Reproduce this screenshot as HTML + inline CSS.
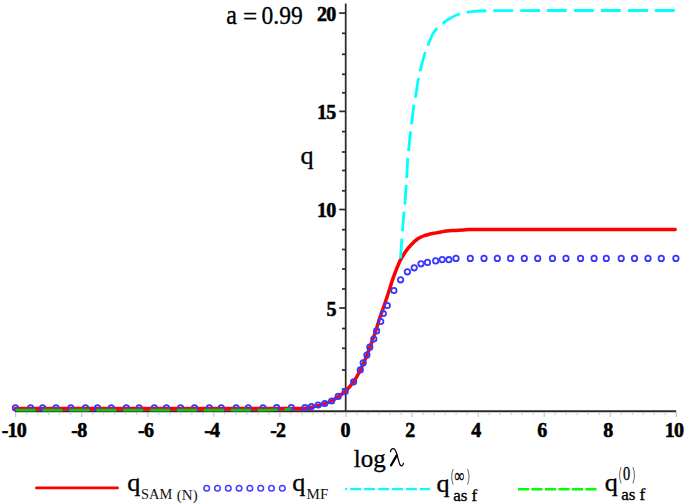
<!DOCTYPE html>
<html><head><meta charset="utf-8"><title>q vs log lambda</title>
<style>
html,body{margin:0;padding:0;background:#fff;width:685px;height:504px;overflow:hidden;font-family:"Liberation Serif",serif;}
svg{display:block;}
</style></head><body>
<svg width="685" height="504" viewBox="0 0 685 504">
<g stroke="#2a2a2a" fill="none">
<line x1="345.70" y1="3.5" x2="345.70" y2="412.10" stroke-width="1.75"/>
<line x1="14.8" y1="411.30" x2="676.2" y2="411.30" stroke-width="2"/>
<line x1="339.2" y1="13.10" x2="345.50" y2="13.10" stroke-width="1.7"/>
<line x1="342" y1="33.30" x2="345.50" y2="33.30" stroke-width="1.7"/>
<line x1="342" y1="54.30" x2="345.50" y2="54.30" stroke-width="1.7"/>
<line x1="342" y1="74.30" x2="345.50" y2="74.30" stroke-width="1.7"/>
<line x1="342" y1="92.80" x2="345.50" y2="92.80" stroke-width="1.7"/>
<line x1="339.2" y1="111.40" x2="345.50" y2="111.40" stroke-width="1.7"/>
<line x1="342" y1="131.60" x2="345.50" y2="131.60" stroke-width="1.7"/>
<line x1="342" y1="152.00" x2="345.50" y2="152.00" stroke-width="1.7"/>
<line x1="342" y1="170.50" x2="345.50" y2="170.50" stroke-width="1.7"/>
<line x1="342" y1="190.80" x2="345.50" y2="190.80" stroke-width="1.7"/>
<line x1="339.2" y1="209.50" x2="345.50" y2="209.50" stroke-width="1.7"/>
<line x1="342" y1="229.70" x2="345.50" y2="229.70" stroke-width="1.7"/>
<line x1="342" y1="249.50" x2="345.50" y2="249.50" stroke-width="1.7"/>
<line x1="342" y1="269.00" x2="345.50" y2="269.00" stroke-width="1.7"/>
<line x1="342" y1="289.00" x2="345.50" y2="289.00" stroke-width="1.7"/>
<line x1="339.2" y1="308.00" x2="345.50" y2="308.00" stroke-width="1.7"/>
<line x1="342" y1="328.50" x2="345.50" y2="328.50" stroke-width="1.7"/>
<line x1="342" y1="348.30" x2="345.50" y2="348.30" stroke-width="1.7"/>
<line x1="342" y1="370.10" x2="345.50" y2="370.10" stroke-width="1.7"/>
<line x1="342" y1="389.00" x2="345.50" y2="389.00" stroke-width="1.7"/>
</g>
<g stroke="#c8c8c8" stroke-width="1" fill="none">
<line x1="15.70" y1="412.30" x2="15.70" y2="417" stroke="#b8b8b8"/>
<line x1="26.71" y1="412.30" x2="26.71" y2="415"/>
<line x1="37.72" y1="412.30" x2="37.72" y2="415"/>
<line x1="48.73" y1="412.30" x2="48.73" y2="415"/>
<line x1="59.74" y1="412.30" x2="59.74" y2="415"/>
<line x1="70.75" y1="412.30" x2="70.75" y2="415"/>
<line x1="81.76" y1="412.30" x2="81.76" y2="417" stroke="#b8b8b8"/>
<line x1="92.77" y1="412.30" x2="92.77" y2="415"/>
<line x1="103.78" y1="412.30" x2="103.78" y2="415"/>
<line x1="114.79" y1="412.30" x2="114.79" y2="415"/>
<line x1="125.80" y1="412.30" x2="125.80" y2="415"/>
<line x1="136.81" y1="412.30" x2="136.81" y2="415"/>
<line x1="147.82" y1="412.30" x2="147.82" y2="417" stroke="#b8b8b8"/>
<line x1="158.83" y1="412.30" x2="158.83" y2="415"/>
<line x1="169.84" y1="412.30" x2="169.84" y2="415"/>
<line x1="180.85" y1="412.30" x2="180.85" y2="415"/>
<line x1="191.86" y1="412.30" x2="191.86" y2="415"/>
<line x1="202.87" y1="412.30" x2="202.87" y2="415"/>
<line x1="213.88" y1="412.30" x2="213.88" y2="417" stroke="#b8b8b8"/>
<line x1="224.89" y1="412.30" x2="224.89" y2="415"/>
<line x1="235.90" y1="412.30" x2="235.90" y2="415"/>
<line x1="246.91" y1="412.30" x2="246.91" y2="415"/>
<line x1="257.92" y1="412.30" x2="257.92" y2="415"/>
<line x1="268.93" y1="412.30" x2="268.93" y2="415"/>
<line x1="279.94" y1="412.30" x2="279.94" y2="417" stroke="#b8b8b8"/>
<line x1="290.95" y1="412.30" x2="290.95" y2="415"/>
<line x1="301.96" y1="412.30" x2="301.96" y2="415"/>
<line x1="312.97" y1="412.30" x2="312.97" y2="415"/>
<line x1="323.98" y1="412.30" x2="323.98" y2="415"/>
<line x1="334.99" y1="412.30" x2="334.99" y2="415"/>
<line x1="346.00" y1="412.30" x2="346.00" y2="417" stroke="#b8b8b8"/>
<line x1="357.01" y1="412.30" x2="357.01" y2="415"/>
<line x1="368.02" y1="412.30" x2="368.02" y2="415"/>
<line x1="379.03" y1="412.30" x2="379.03" y2="415"/>
<line x1="390.04" y1="412.30" x2="390.04" y2="415"/>
<line x1="401.05" y1="412.30" x2="401.05" y2="415"/>
<line x1="412.06" y1="412.30" x2="412.06" y2="417" stroke="#b8b8b8"/>
<line x1="423.07" y1="412.30" x2="423.07" y2="415"/>
<line x1="434.08" y1="412.30" x2="434.08" y2="415"/>
<line x1="445.09" y1="412.30" x2="445.09" y2="415"/>
<line x1="456.10" y1="412.30" x2="456.10" y2="415"/>
<line x1="467.11" y1="412.30" x2="467.11" y2="415"/>
<line x1="478.12" y1="412.30" x2="478.12" y2="417" stroke="#b8b8b8"/>
<line x1="489.13" y1="412.30" x2="489.13" y2="415"/>
<line x1="500.14" y1="412.30" x2="500.14" y2="415"/>
<line x1="511.15" y1="412.30" x2="511.15" y2="415"/>
<line x1="522.16" y1="412.30" x2="522.16" y2="415"/>
<line x1="533.17" y1="412.30" x2="533.17" y2="415"/>
<line x1="544.18" y1="412.30" x2="544.18" y2="417" stroke="#b8b8b8"/>
<line x1="555.19" y1="412.30" x2="555.19" y2="415"/>
<line x1="566.20" y1="412.30" x2="566.20" y2="415"/>
<line x1="577.21" y1="412.30" x2="577.21" y2="415"/>
<line x1="588.22" y1="412.30" x2="588.22" y2="415"/>
<line x1="599.23" y1="412.30" x2="599.23" y2="415"/>
<line x1="610.24" y1="412.30" x2="610.24" y2="417" stroke="#b8b8b8"/>
<line x1="621.25" y1="412.30" x2="621.25" y2="415"/>
<line x1="632.26" y1="412.30" x2="632.26" y2="415"/>
<line x1="643.27" y1="412.30" x2="643.27" y2="415"/>
<line x1="654.28" y1="412.30" x2="654.28" y2="415"/>
<line x1="665.29" y1="412.30" x2="665.29" y2="415"/>
<line x1="676.30" y1="412.30" x2="676.30" y2="417" stroke="#b8b8b8"/>
</g>
<g font-family="Liberation Serif, serif" font-weight="bold" font-size="20" fill="#000" stroke="#000" stroke-width="0.55">
<text x="13.80" y="437.0" text-anchor="middle" letter-spacing="-0.8">-10</text>
<text x="78.86" y="437.0" text-anchor="middle" letter-spacing="-0.8">-8</text>
<text x="145.62" y="437.0" text-anchor="middle" letter-spacing="-0.8">-6</text>
<text x="211.68" y="437.0" text-anchor="middle" letter-spacing="-0.8">-4</text>
<text x="277.74" y="437.0" text-anchor="middle" letter-spacing="-0.8">-2</text>
<text x="345.50" y="437.0" text-anchor="middle">0</text>
<text x="410.16" y="437.0" text-anchor="middle">2</text>
<text x="476.22" y="437.0" text-anchor="middle">4</text>
<text x="542.28" y="437.0" text-anchor="middle">6</text>
<text x="608.34" y="437.0" text-anchor="middle">8</text>
<text x="674.00" y="437.0" text-anchor="middle" letter-spacing="-0.8">10</text>
<text x="336.40" y="315.80" text-anchor="end">5</text>
<text x="335.40" y="217.30" text-anchor="end" letter-spacing="-0.8">10</text>
<text x="335.40" y="119.20" text-anchor="end" letter-spacing="-0.8">15</text>
<text x="335.40" y="20.90" text-anchor="end" letter-spacing="-0.8">20</text>
</g>
<path d="M15.20,408.60 C37.67,408.60 102.87,408.60 150.00,408.60 C197.13,408.60 272.17,408.67 298.00,408.60 C323.83,408.53 302.75,408.45 305.00,408.20 C307.25,407.95 309.33,407.53 311.50,407.10 C313.67,406.67 315.78,406.18 318.00,405.60 C320.22,405.02 322.52,404.37 324.80,403.60 C327.08,402.83 329.47,402.15 331.70,401.00 C333.93,399.85 335.95,398.30 338.20,396.70 C340.45,395.10 342.63,393.88 345.20,391.40 C347.77,388.92 351.08,385.37 353.60,381.80 C356.12,378.23 358.08,374.42 360.30,370.00 C362.52,365.58 364.82,360.40 366.90,355.30 C368.98,350.20 371.55,342.83 372.80,339.40 C374.05,335.97 373.68,336.82 374.40,334.70 C375.12,332.58 376.25,329.35 377.10,326.70 C377.95,324.05 378.63,321.43 379.50,318.80 C380.37,316.17 381.37,313.55 382.30,310.90 C383.23,308.25 384.12,305.80 385.10,302.90 C386.08,300.00 386.87,297.62 388.20,293.50 C389.53,289.38 391.40,283.03 393.10,278.20 C394.80,273.37 397.20,267.47 398.40,264.50 C399.60,261.53 399.07,262.62 400.30,260.40 C401.53,258.18 403.90,253.90 405.80,251.20 C407.70,248.50 409.75,246.23 411.70,244.20 C413.65,242.17 415.55,240.37 417.50,239.00 C419.45,237.63 421.45,236.78 423.40,236.00 C425.35,235.22 427.27,234.78 429.20,234.30 C431.13,233.82 433.05,233.48 435.00,233.10 C436.95,232.72 438.95,232.33 440.90,232.00 C442.85,231.67 444.77,231.33 446.70,231.10 C448.63,230.87 450.55,230.73 452.50,230.60 C454.45,230.47 456.45,230.42 458.40,230.30 C460.35,230.18 462.27,230.02 464.20,229.90 C466.13,229.78 464.03,229.67 470.00,229.60 C475.97,229.53 485.00,229.50 500.00,229.50 C515.00,229.50 530.80,229.58 560.00,229.60 C589.20,229.62 656.00,229.60 675.20,229.60" fill="none" stroke="#ff0000" stroke-width="3.5" stroke-linecap="round" stroke-linejoin="round"/>
<g fill="none" stroke="#3838ff" stroke-width="1.8">
<circle cx="15.40" cy="407.90" r="2.7"/>
<circle cx="30.60" cy="407.90" r="2.7"/>
<circle cx="42.60" cy="407.90" r="2.7"/>
<circle cx="56.00" cy="407.90" r="2.7"/>
<circle cx="70.90" cy="407.90" r="2.7"/>
<circle cx="85.50" cy="407.90" r="2.7"/>
<circle cx="97.50" cy="407.90" r="2.7"/>
<circle cx="111.30" cy="407.90" r="2.7"/>
<circle cx="126.30" cy="407.90" r="2.7"/>
<circle cx="139.10" cy="407.90" r="2.7"/>
<circle cx="154.30" cy="407.90" r="2.7"/>
<circle cx="166.40" cy="407.90" r="2.7"/>
<circle cx="180.60" cy="407.90" r="2.7"/>
<circle cx="194.50" cy="407.90" r="2.7"/>
<circle cx="209.30" cy="407.90" r="2.7"/>
<circle cx="221.30" cy="407.90" r="2.7"/>
<circle cx="236.20" cy="407.90" r="2.7"/>
<circle cx="248.30" cy="407.90" r="2.7"/>
<circle cx="263.00" cy="407.90" r="2.7"/>
<circle cx="276.70" cy="407.50" r="2.7"/>
<circle cx="291.30" cy="407.50" r="2.7"/>
<circle cx="305.00" cy="407.60" r="2.7"/>
<circle cx="311.50" cy="406.50" r="2.7"/>
<circle cx="318.10" cy="405.00" r="2.7"/>
<circle cx="324.80" cy="403.50" r="2.7"/>
<circle cx="331.70" cy="401.00" r="2.7"/>
<circle cx="338.20" cy="396.40" r="2.7"/>
<circle cx="345.20" cy="391.40" r="2.7"/>
<circle cx="353.60" cy="381.80" r="2.7"/>
<circle cx="360.30" cy="369.90" r="2.7"/>
<circle cx="363.20" cy="362.80" r="2.7"/>
<circle cx="366.90" cy="355.10" r="2.7"/>
<circle cx="369.80" cy="347.20" r="2.7"/>
<circle cx="373.80" cy="339.00" r="2.7"/>
<circle cx="376.60" cy="330.90" r="2.7"/>
<circle cx="380.70" cy="321.50" r="2.7"/>
<circle cx="383.30" cy="313.50" r="2.7"/>
<circle cx="387.30" cy="305.50" r="2.7"/>
<circle cx="393.90" cy="290.50" r="2.7"/>
<circle cx="400.60" cy="279.80" r="2.7"/>
<circle cx="407.40" cy="271.80" r="2.7"/>
<circle cx="414.20" cy="267.80" r="2.7"/>
<circle cx="421.00" cy="263.80" r="2.7"/>
<circle cx="427.50" cy="262.40" r="2.7"/>
<circle cx="435.70" cy="260.90" r="2.7"/>
<circle cx="442.20" cy="259.60" r="2.7"/>
<circle cx="448.90" cy="259.70" r="2.7"/>
<circle cx="456.00" cy="258.40" r="2.7"/>
<circle cx="470.30" cy="258.40" r="2.7"/>
<circle cx="484.00" cy="258.40" r="2.7"/>
<circle cx="497.30" cy="258.40" r="2.7"/>
<circle cx="510.60" cy="258.40" r="2.7"/>
<circle cx="524.30" cy="258.40" r="2.7"/>
<circle cx="537.70" cy="258.40" r="2.7"/>
<circle cx="552.50" cy="258.40" r="2.7"/>
<circle cx="566.00" cy="258.40" r="2.7"/>
<circle cx="580.60" cy="258.40" r="2.7"/>
<circle cx="594.10" cy="258.40" r="2.7"/>
<circle cx="606.30" cy="258.40" r="2.7"/>
<circle cx="621.20" cy="258.40" r="2.7"/>
<circle cx="634.50" cy="258.40" r="2.7"/>
<circle cx="648.00" cy="258.40" r="2.7"/>
<circle cx="661.30" cy="258.40" r="2.7"/>
<circle cx="675.90" cy="258.40" r="2.7"/>
</g>
<path d="M400.50,258.30 C400.65,256.08 401.08,249.55 401.40,245.00 C401.72,240.45 402.03,235.67 402.40,231.00 C402.77,226.33 403.18,221.50 403.60,217.00 C404.02,212.50 404.53,208.50 404.90,204.00 C405.27,199.50 405.50,194.50 405.80,190.00 C406.10,185.50 406.37,182.33 406.70,177.00 C407.03,171.67 407.48,162.42 407.80,158.00 C408.12,153.58 408.15,154.90 408.60,150.50 C409.05,146.10 410.00,136.00 410.50,131.60 C411.00,127.20 411.03,128.57 411.60,124.10 C412.17,119.63 413.27,109.27 413.90,104.80 C414.53,100.33 414.62,101.80 415.40,97.30 C416.18,92.80 417.77,82.38 418.60,77.80 C419.43,73.22 419.30,74.03 420.40,69.80 C421.50,65.57 423.88,56.63 425.20,52.40 C426.52,48.17 426.98,47.58 428.30,44.40 C429.62,41.22 431.63,35.98 433.10,33.30 C434.57,30.62 435.38,30.02 437.10,28.30 C438.82,26.58 441.42,24.55 443.40,23.00 C445.38,21.45 446.48,20.45 449.00,19.00 C451.52,17.55 455.60,15.40 458.50,14.30 C461.40,13.20 463.75,12.90 466.40,12.40 C469.05,11.90 470.47,11.58 474.40,11.30 C478.33,11.02 475.73,10.83 490.00,10.70 C504.27,10.57 529.00,10.53 560.00,10.50 C591.00,10.47 656.67,10.50 676.00,10.50" fill="none" stroke="#00ffff" stroke-width="2.8" stroke-dasharray="19.8 7.1" stroke-dashoffset="0"/>
<path d="M15.6,410.1 L262,410.1 C272,410.1 280,409.9 291.4,408.9" fill="none" stroke="#12c012" stroke-width="2.6" stroke-dasharray="20 6.9"/>
<g font-family="Liberation Serif, serif" fill="#000" stroke="#000" stroke-width="0.3">
<text transform="translate(226.20,23.60) scale(1.000,1.150)" font-size="24">a</text>
<text transform="translate(243.00,23.60) scale(1.050,1.000)" font-size="24">=</text>
<text transform="translate(261.60,23.50) scale(0.980,1.070)" font-size="24">0.99</text>
<text transform="translate(300.40,163.60) scale(1.050,1.020)" font-size="25">q</text>
<text transform="translate(353.80,467.20) scale(1.000,1.000)" font-size="25">log</text>
</g>
<path d="M390.5,452.2 C390.4,450.2 391.8,448.6 393.4,448.7 C395.3,448.9 396.3,452 397.1,455.2 L399.2,462.6 C399.9,465.2 400.9,466.1 401.9,465.8 C402.9,465.5 403.4,464.2 403.5,462.8" fill="none" stroke="#000" stroke-width="1.25"/>
<path d="M396.7,455.4 L391.1,465.3" fill="none" stroke="#000" stroke-width="2.3" stroke-linecap="round"/>
<line x1="36.4" y1="487.9" x2="117.6" y2="487.9" stroke="#ff0000" stroke-width="2.7" stroke-linecap="round"/>
<g fill="none" stroke="#4040ff" stroke-width="1.5">
<circle cx="206.70" cy="488.2" r="2.8"/>
<circle cx="217.50" cy="488.2" r="2.8"/>
<circle cx="228.30" cy="488.2" r="2.8"/>
<circle cx="239.10" cy="488.2" r="2.8"/>
<circle cx="249.90" cy="488.2" r="2.8"/>
<circle cx="260.70" cy="488.2" r="2.8"/>
<circle cx="271.50" cy="488.2" r="2.8"/>
<circle cx="282.30" cy="488.2" r="2.8"/>
</g>
<circle cx="346" cy="489" r="1.2" fill="#00ffff"/>
<line x1="350.2" y1="489.1" x2="430" y2="489.1" stroke="#00ffff" stroke-width="2.2" stroke-dasharray="10.9 3.05"/>
<line x1="518" y1="489.2" x2="598" y2="489.2" stroke="#00ff00" stroke-width="2.6" stroke-dasharray="11 2.5"/>
<g font-family="Liberation Serif, serif" fill="#000" stroke="#000" stroke-width="0.3">
<text transform="translate(127.30,491.40) scale(1.050,0.970)" font-size="25">q</text>
<text transform="translate(292.30,491.00) scale(1.050,0.980)" font-size="25">q</text>
<text transform="translate(436.40,491.60) scale(1.050,0.970)" font-size="25">q</text>
<text transform="translate(604.70,491.20) scale(1.050,0.970)" font-size="25">q</text>
<text transform="translate(623.00,480.00) scale(0.800,1.000)" font-size="18">0</text>
<text transform="translate(454.80,481.60) scale(0.880,1.250)" font-size="15" font-weight="bold">&#8734;</text>
</g>
<g font-family="Liberation Serif, serif" fill="#111">
<text transform="translate(141.00,498.90) scale(1.030,1.000)" font-size="14">SAM</text>
<text transform="translate(176.80,499.60) scale(1.000,1.000)" font-size="15">(N)</text>
<text transform="translate(306.60,499.30) scale(1.000,1.000)" font-size="15">MF</text>
</g>
<g fill="none" stroke="#666" stroke-width="1.0">
<path d="M453.20,469.00 Q450.10,476.80 453.20,484.60"/>
<path d="M467.50,469.00 Q470.60,476.80 467.50,484.60"/>
<path d="M621.10,467.20 Q618.00,475.30 621.10,483.40"/>
<path d="M632.90,467.20 Q636.00,475.30 632.90,483.40"/>
</g>
<g font-family="Liberation Serif, serif" fill="#000" stroke="#000" stroke-width="0.35">
<text transform="translate(453.20,501.20) scale(1.000,1.040)" font-size="17">as f</text>
<text transform="translate(621.20,499.80) scale(1.000,1.040)" font-size="17">as f</text>
</g>
</svg>
</body></html>
